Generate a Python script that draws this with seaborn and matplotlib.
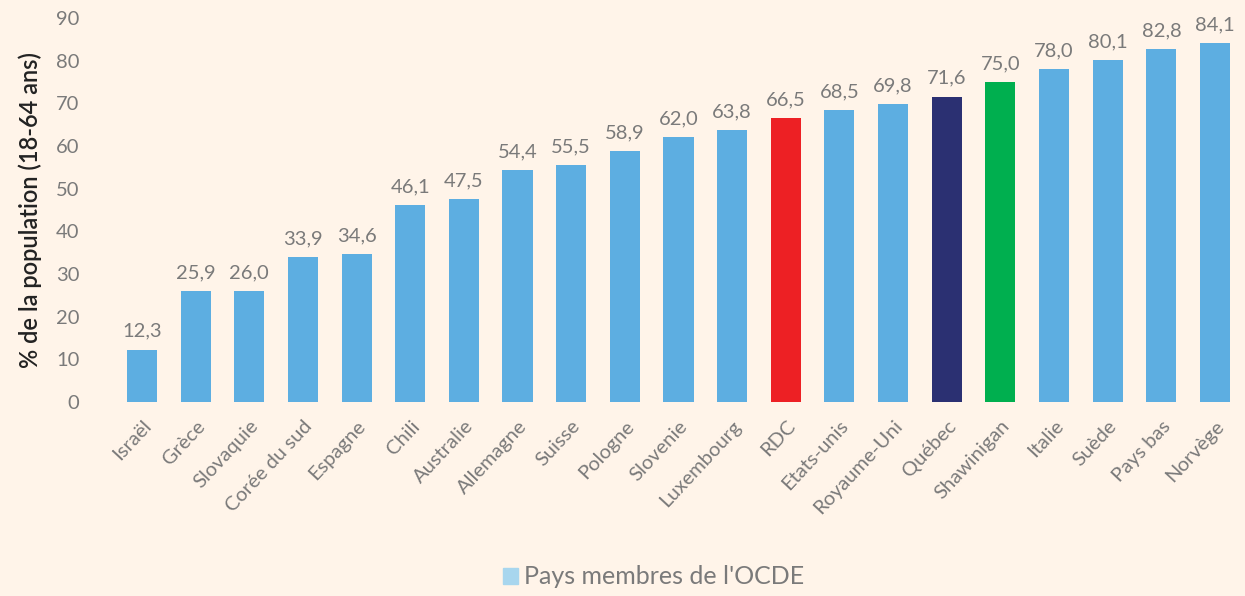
import matplotlib
matplotlib.use('Agg')
import matplotlib.pyplot as plt
from matplotlib.patches import Patch
import seaborn as sns

pays = ['Israël', 'Grèce', 'Slovaquie', 'Corée du sud', 'Espagne', 'Chili',
        'Australie', 'Allemagne', 'Suisse', 'Pologne', 'Slovenie', 'Luxembourg',
        'RDC', 'Etats-unis', 'Royaume-Uni', 'Québec', 'Shawinigan', 'Italie',
        'Suède', 'Pays bas', 'Norvège']
valeurs = [12.3, 25.9, 26.0, 33.9, 34.6, 46.1, 47.5, 54.4, 55.5, 58.9, 62.0,
           63.8, 66.5, 68.5, 69.8, 71.6, 75.0, 78.0, 80.1, 82.8, 84.1]
speciaux = {'RDC': '#ED2024', 'Québec': '#2B3072', 'Shawinigan': '#00AF4F'}
bleu = '#5DAEE1'
couleurs = [speciaux.get(p, bleu) for p in pays]

fond = '#FFF4E9'
gris = '#7A7A7A'

sns.set_style('white')
plt.rcParams['font.family'] = ['Lato', 'DejaVu Sans']

fig = plt.figure(figsize=(12.45, 5.96), dpi=100, facecolor=fond)
ax = fig.add_axes([99 / 1245, (596 - 402) / 596, (1236.5 - 99) / 1245, 384 / 596])
ax.set_facecolor(fond)

sns.barplot(x=pays, y=valeurs, hue=pays, palette=couleurs, legend=False,
            width=0.56, saturation=1, linewidth=0, ax=ax)

for c in ax.containers:
    ax.bar_label(c, labels=[f'{v:.1f}'.replace('.', ',') for v in c.datavalues],
                 padding=7, fontsize=14.5, color=gris)

ax.set_ylim(0, 90)
ax.set_xlim(-0.8, 20.4)
ax.set_yticks(range(0, 91, 10))
ax.tick_params(axis='y', labelsize=14.5, labelcolor=gris, length=0, pad=14)
ax.tick_params(axis='x', labelsize=14.5, labelcolor=gris, length=0, pad=11)
plt.setp(ax.get_xticklabels(), rotation=47, ha='right', rotation_mode='anchor')
ax.set_ylabel('% de la population (18-64 ans)', fontsize=17, color='#222222',
              fontweight='semibold', labelpad=10)
sns.despine(ax=ax, left=True, bottom=True)

fig.legend(handles=[Patch(color='#A8D6EE', label="Pays membres de l'OCDE")],
           loc='lower center', bbox_to_anchor=(0.525, -0.025), frameon=False,
           labelcolor=gris, handlelength=0.6, handleheight=0.6,
           handletextpad=0.25, prop={'size': 18})

fig.savefig('out.png', dpi=100, facecolor=fond)
